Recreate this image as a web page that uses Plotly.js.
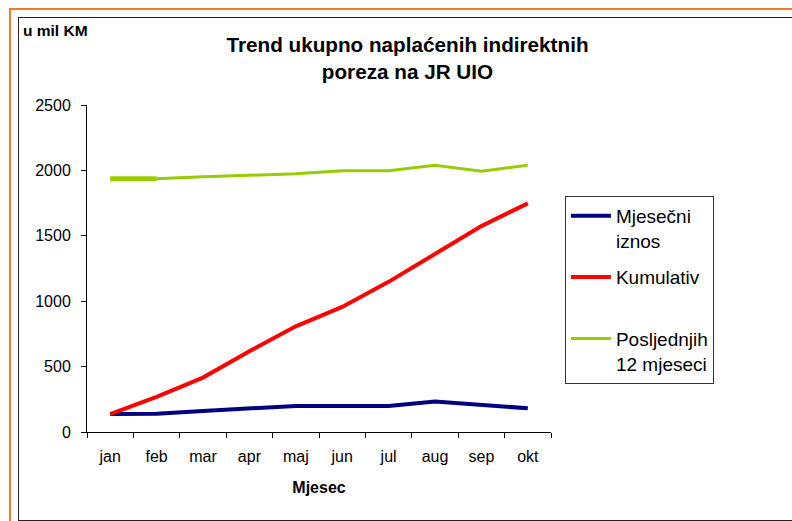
<!DOCTYPE html>
<html>
<head>
<meta charset="utf-8">
<script src="https://cdn.plot.ly/plotly-3.0.1.min.js"></script>
<style>
  html, body { margin: 0; padding: 0; background: #fff; }
  #wrap { position: relative; width: 792px; height: 521px; overflow: hidden; }
  #chart { position: absolute; left: 0; top: 0; width: 792px; height: 521px; }
  #orange { position: absolute; left: 9px; top: 8px; width: 800px; height: 530px; border: 2px solid #F47A2A; pointer-events: none; box-sizing: border-box; }
  #black { position: absolute; left: 18px; top: 17px; width: 800px; height: 504px; border: 1.5px solid #222; pointer-events: none; box-sizing: border-box; }
</style>
</head>
<body>
<div id="wrap">
  <div id="chart"></div>
  <div id="orange"></div>
  <div id="black"></div>
</div>
<script>
const months = ['jan', 'feb', 'mar', 'apr', 'maj', 'jun', 'jul', 'aug', 'sep', 'okt'];
const mjesecniIznos = [138, 139, 161, 179, 199, 199, 199, 233, 210, 181];
const kumulativ = [136, 268, 416, 617, 808, 956, 1148, 1365, 1574, 1748];
const posljednjih12 = [1936, 1936, 1951, 1962, 1974, 1997, 1997, 2040, 1994, 2040];
const yTicks = [0, 500, 1000, 1500, 2000, 2500];
const seriesNames = ['Mjesečni<br>iznos', 'Kumulativ<br>\u00a0', 'Posljednjih<br>12 mjeseci'];

const FONT = 'Arial, "Liberation Sans", sans-serif';

const traces = [
  {
    x: months, y: mjesecniIznos, type: 'scatter', mode: 'lines',
    name: seriesNames[0],
    line: { color: '#000080', width: 4 }, legendgroup: 'a'
  },
  {
    x: months, y: kumulativ, type: 'scatter', mode: 'lines',
    name: seriesNames[1],
    line: { color: '#FF0000', width: 4 }, legendgroup: 'b'
  },
  {
    x: months, y: posljednjih12, type: 'scatter', mode: 'lines',
    name: seriesNames[2],
    line: { color: '#99CC00', width: 3 }, legendgroup: 'c'
  },
  {
    x: months.slice(0, 2), y: posljednjih12.slice(0, 2), type: 'scatter', mode: 'lines',
    showlegend: false, hoverinfo: 'skip',
    line: { color: '#99CC00', width: 5 }, legendgroup: 'c'
  }
];

const layout = {
  width: 792, height: 521,
  margin: { l: 87, r: 241, t: 105, b: 89, pad: 0 },
  paper_bgcolor: 'rgba(0,0,0,0)',
  plot_bgcolor: 'rgba(0,0,0,0)',
  font: { family: FONT, color: '#000', size: 16 },
  title: {
    text: '<b>Trend ukupno naplaćenih indirektnih<br>poreza na JR UIO</b>',
    font: { family: FONT, size: 20.7, color: '#000' },
    xref: 'container', yref: 'container',
    x: 407.5 / 792, xanchor: 'center',
    y: 1 - 52 / 521, yanchor: 'top'
  },
  xaxis: {
    type: 'category',
    range: [-0.5, 9.5],
    tickson: 'boundaries',
    ticks: 'outside', ticklen: 5, tickcolor: '#000', tickwidth: 1,
    showline: true, linecolor: '#000', linewidth: 1,
    showgrid: false, zeroline: false,
    tickfont: { family: FONT, size: 16, color: '#000' },
    ticklabelstandoff: 10,
    title: { text: '<b>Mjesec</b>', font: { family: FONT, size: 16, color: '#000' }, standoff: 17 }
  },
  yaxis: {
    range: [0, 2500],
    tickvals: yTicks,
    ticktext: yTicks.map(String),
    ticks: 'outside', ticklen: 5, tickcolor: '#000', tickwidth: 1,
    showline: true, linecolor: '#000', linewidth: 1,
    showgrid: false, zeroline: false,
    tickfont: { family: FONT, size: 16, color: '#000' },
    ticklabelstandoff: 7
  },
  legend: {
    x: 1.030, xanchor: 'left',
    y: 0.7224, yanchor: 'top',
    bgcolor: '#fff',
    bordercolor: '#333', borderwidth: 1,
    font: { family: FONT, size: 19, color: '#000' },
    valign: 'top',
    traceorder: 'grouped',
    tracegroupgap: 9,
    itemwidth: 40
  },
  showlegend: true,
  annotations: [
    {
      text: '<b>u mil KM</b>', showarrow: false,
      xref: 'paper', yref: 'paper',
      x: (21 - 87) / 464, xanchor: 'left',
      y: (432 - 20) / 327, yanchor: 'top',
      font: { family: FONT, size: 15.5, color: '#000' }
    }
  ]
};

Plotly.newPlot('chart', traces, layout, { displayModeBar: false, staticPlot: true });
</script>
</body>
</html>
